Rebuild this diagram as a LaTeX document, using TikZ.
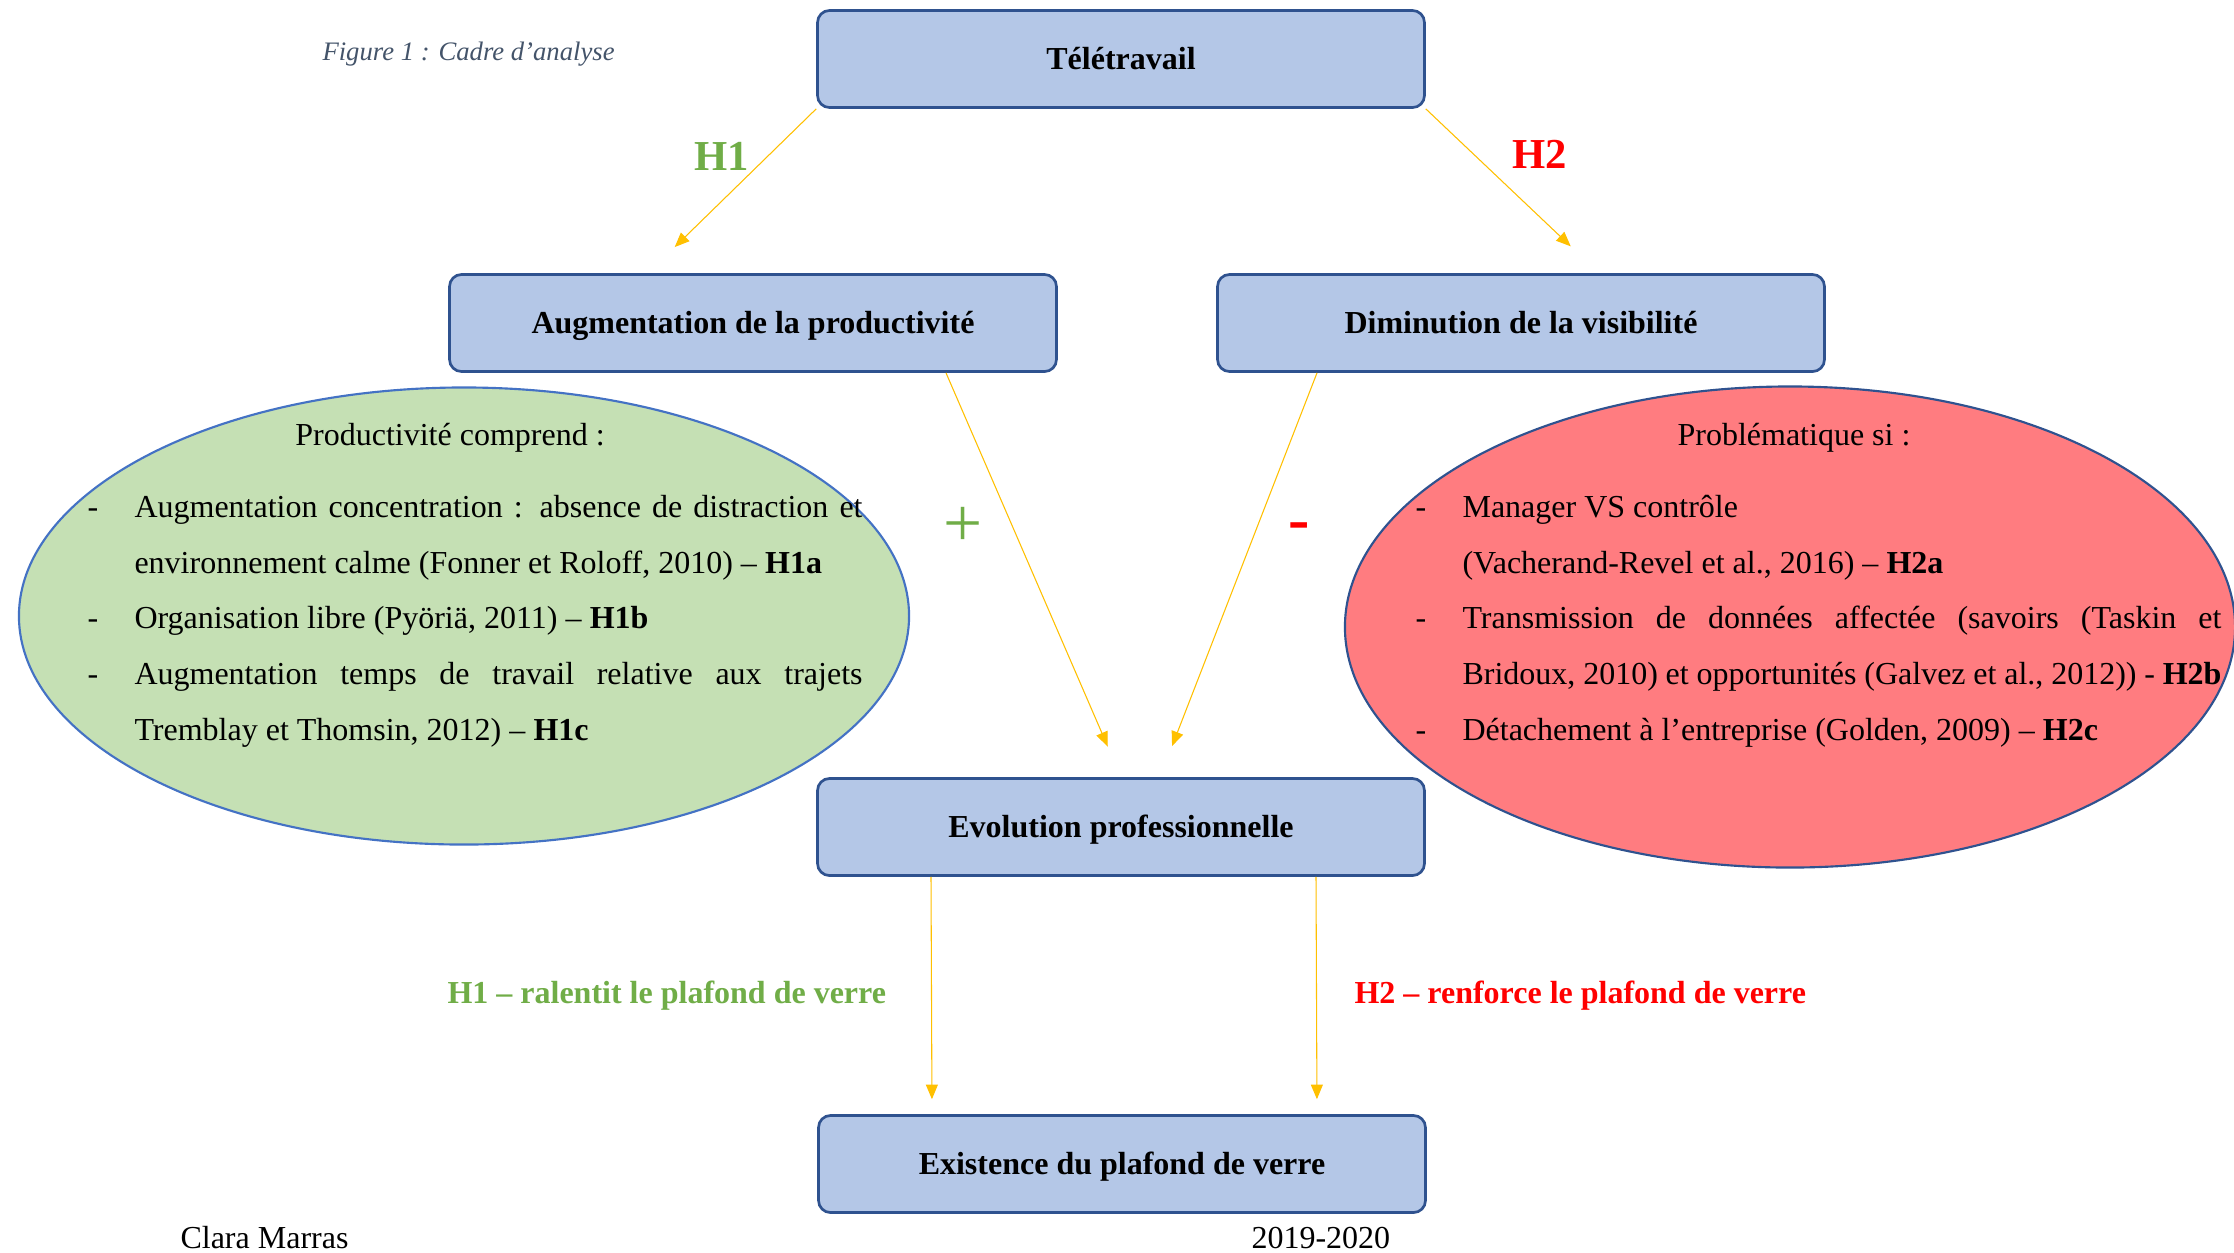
\documentclass[12pt,tikz,border=0pt]{standalone}
\usepackage{fontspec}
\setmainfont{Liberation Serif}
\usetikzlibrary{arrows.meta,shapes.geometric,calc}

\definecolor{boxblue}{HTML}{B4C7E7}
\definecolor{boxline}{HTML}{2F528F}
\definecolor{ellline}{HTML}{4472C4}
\definecolor{prodgreen}{HTML}{C5E0B4}
\definecolor{visired}{HTML}{FF7C80}
\definecolor{arrowgold}{HTML}{FFC000}
\definecolor{hgreen}{HTML}{70AD47}
\definecolor{hred}{HTML}{FF0000}
\definecolor{capgray}{HTML}{44546A}

\newcommand{\justline}[2]{\makebox[#1][s]{#2}}

\begin{document}
\begin{tikzpicture}[
            x=0.375pt,
            y=-0.375pt,
            box/.style={draw=boxline, line width=1pt, fill=boxblue, rounded corners=4.5pt,
              minimum width=227.6pt, minimum height=36.4pt, text height=8.4pt, text depth=0.2pt,
              font=\bfseries},
            bubble/.style={draw, ellipse, line width=0.8pt, inner sep=0pt},
            link/.style={draw=arrowgold, line width=0.4pt, -{Triangle[length=5.5pt,width=4.5pt]}},
            line/.style={anchor=base west, inner sep=0pt},
            hlabel/.style={anchor=base, inner sep=0pt, font=\fontsize{16}{19}\selectfont\bfseries},
          ]
          \useasboundingbox[fill=white] (0,0) rectangle (2234,1252);
          % ellipses
          \node[bubble, draw=ellline, fill=prodgreen, minimum width=333.8pt, minimum height=171.4pt] (prodell) at (464,616) {};
          \node[bubble, draw=boxline, fill=visired, minimum width=333.8pt, minimum height=180.4pt] (visiell) at (1790,627) {};
          % boxes
          \node[box] (tele) at (1121,59) {Télétravail};
          \node[box] (prod) at (753,323) {Augmentation de la productivité};
          \node[box] (visi) at (1521,323) {Diminution de la visibilité};
          \node[box] (evol) at (1121,827) {Evolution professionnelle};
          \node[box] (plaf) at (1122,1164) {Existence du plafond de verre};
          % arrows
          \draw[link, shorten >=14pt] (tele.south west) -- ($(prod.north)+(-105,0)$);
          \draw[link, shorten >=14.6pt] (tele.south east) -- ($(visi.north)+(78,0)$);
          \draw[link, shorten >=12.5pt] ($(prod.south)+(193,0)$) -- (evol.north);
          \draw[link, shorten >=12.5pt] ($(visi.south)+(-204,0)$) -- ($(evol.north)+(39,0)$);
          \foreach \dx in {-190,195} {
            \draw[link, shorten >=5.6pt] ($(evol.south)+(\dx,0)$) -- ($(plaf.north)+(\dx,0)$);
          }
          % labels
          \node[line, font=\fontsize{10}{12}\selectfont\itshape, text=capgray] (cap) at (322,60) {Figure 1 : Cadre d'analyse};
          \node[hlabel, text=hgreen] (hone) at (722,170) {H1};
          \node[hlabel, text=hred] (htwo) at (1540,168) {H2};
          \node[text=hgreen, inner sep=0pt, font=\fontsize{26}{30}\selectfont] (plus) at (963,527) {+};
          \node[text=hred, inner sep=0pt, font=\fontsize{24}{28}\selectfont\bfseries] (minus) at (1299,532) {-};
          % green ellipse text
          \node[anchor=base, inner sep=0pt] (prodhead) at (450,445) {Productivité comprend :};
          \foreach \y in {517,628,684} {
            \node[line] (gdash\y) at (87,\y) {-};
          }
          \node[line] (g1) at (134,517) {\justline{273pt}{Augmentation concentration : absence de distraction et}};
          \node[line] (g2) at (134,573) {environnement calme (Fonner et Roloff, 2010) – \textbf{H1a}};
          \node[line] (g3) at (134,628) {Organisation libre (Pyöriä, 2011) – \textbf{H1b}};
          \node[line] (g4) at (134,684) {\justline{273pt}{Augmentation temps de travail relative aux trajets}};
          \node[line] (g5) at (134,740) {Tremblay et Thomsin, 2012) – \textbf{H1c}};
          % red ellipse text
          \node[anchor=base, inner sep=0pt] (visihead) at (1794,445) {Problématique si :};
          \foreach \y in {517,628,740} {
            \node[line] (rdash\y) at (1415,\y) {-};
          }
          \node[line] (r1) at (1462,517) {Manager VS contrôle};
          \node[line] (r2) at (1462,573) {(Vacherand-Revel et al., 2016) – \textbf{H2a}};
          \node[line] (r3) at (1462,628) {\justline{284.6pt}{Transmission de données affectée (savoirs (Taskin et}};
          \node[line] (r4) at (1462,684) {\justline{284.6pt}{Bridoux, 2010) et opportunités (Galvez et al., 2012)) - \textbf{H2b}}};
          \node[line] (r5) at (1462,740) {Détachement à l’entreprise (Golden, 2009) – \textbf{H2c}};
          % bottom
          \node[line, font=\bfseries, text=hgreen] (slow) at (447,1003) {H1 – ralentit le plafond de verre};
          \node[line, font=\bfseries, text=hred] (boost) at (1354,1003) {H2 – renforce le plafond de verre};
          \node[line] (author) at (180,1248) {Clara Marras};
          \node[line] (year) at (1251,1248) {2019-2020};
        \end{tikzpicture}
\end{document}
